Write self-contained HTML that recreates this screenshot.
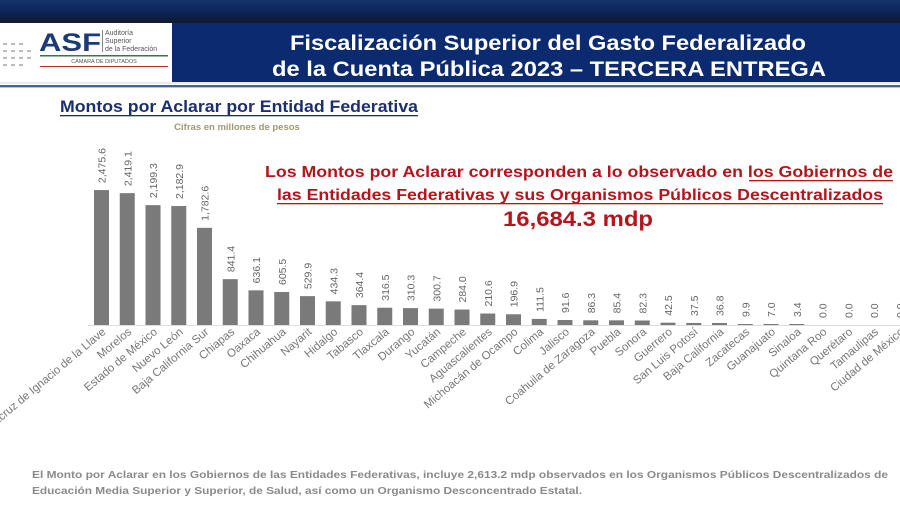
<!DOCTYPE html>
<html><head><meta charset="utf-8"><style>
html,body{margin:0;padding:0;background:#fff;}
svg{display:block;font-family:"Liberation Sans",sans-serif;}
</style></head><body>
<svg width="900" height="506" viewBox="0 0 900 506" xmlns="http://www.w3.org/2000/svg">
<defs><linearGradient id="tg" x1="0" y1="0" x2="0" y2="1"><stop offset="0" stop-color="#17336b"/><stop offset="0.6" stop-color="#0c2252"/><stop offset="1" stop-color="#141a2a"/></linearGradient></defs>
<rect x="0" y="0" width="900" height="23" fill="url(#tg)"/>
<rect x="0" y="23" width="172" height="59" fill="#fff"/>
<rect x="172" y="23" width="728" height="59" fill="#0b2a6f"/>
<rect x="0" y="82" width="900" height="2" fill="#e8ecf2"/>
<rect x="0" y="85" width="900" height="2" fill="#46648e"/>
<rect x="0" y="87" width="900" height="1" fill="#b8c4d4"/>
<g fill="#bbb">
<rect x="3" y="43" width="4" height="2"/><rect x="11" y="43" width="4" height="2"/><rect x="19" y="43" width="4" height="2"/>
<rect x="3" y="50" width="4" height="2"/><rect x="11" y="50" width="4" height="2"/><rect x="19" y="50" width="4" height="2"/><rect x="27" y="50" width="4" height="2"/>
<rect x="3" y="57" width="4" height="2"/><rect x="11" y="57" width="4" height="2"/><rect x="19" y="57" width="4" height="2"/><rect x="27" y="57" width="4" height="2"/>
<rect x="3" y="64" width="4" height="2"/><rect x="11" y="64" width="4" height="2"/><rect x="19" y="64" width="4" height="2"/>
</g>
<text x="39" y="51" font-size="25" font-weight="bold" fill="#1b3a78" textLength="62" lengthAdjust="spacingAndGlyphs">ASF</text>
<rect x="102" y="30" width="1" height="22" fill="#888"/>
<text x="105" y="35" font-size="7" fill="#555">Auditoría</text>
<text x="105" y="43" font-size="7" fill="#555">Superior</text>
<text x="105" y="51" font-size="7" fill="#555">de la Federación</text>
<rect x="40" y="55" width="128" height="1.5" fill="#2e7a4a"/>
<text x="104" y="63" font-size="5.5" fill="#555" text-anchor="middle">CÁMARA DE DIPUTADOS</text>
<rect x="40" y="66" width="128" height="1" fill="#b03030"/>
<g fill="#fff" font-weight="bold" font-size="21" text-anchor="middle">
<text x="548" y="50" textLength="516" lengthAdjust="spacingAndGlyphs">Fiscalización Superior del Gasto Federalizado</text>
<text x="549" y="76" textLength="554" lengthAdjust="spacingAndGlyphs">de la Cuenta Pública 2023 – TERCERA ENTREGA</text>
</g>
<text x="60" y="112" font-size="16.5" font-weight="bold" fill="#1c2f6e" textLength="358" lengthAdjust="spacingAndGlyphs">Montos por Aclarar por Entidad Federativa</text>
<rect x="60" y="115" width="358" height="1.3" fill="#1c2f6e"/>
<text x="237" y="130" font-size="9.5" font-weight="bold" fill="#a09870" text-anchor="middle">Cifras en millones de pesos</text>
<g fill="#b4141c" font-weight="bold" font-size="15.5" text-anchor="middle">
<text x="579" y="177" textLength="628" lengthAdjust="spacingAndGlyphs">Los Montos por Aclarar corresponden a lo observado en los Gobiernos de</text>
<text x="580" y="200" textLength="606" lengthAdjust="spacingAndGlyphs">las Entidades Federativas y sus Organismos Públicos Descentralizados</text>
<text x="578" y="226" font-size="21" textLength="150" lengthAdjust="spacingAndGlyphs">16,684.3 mdp</text>
</g>
<rect x="749" y="180" width="144" height="1.3" fill="#b4141c"/>
<rect x="277" y="203" width="606" height="1.3" fill="#b4141c"/>
<line x1="88" y1="325.5" x2="900" y2="325.5" stroke="#ddd" stroke-width="1"/>
<g fill="#8a8a8a" font-size="10.5" font-weight="bold">
<text x="32" y="478" textLength="856" lengthAdjust="spacingAndGlyphs">El Monto por Aclarar en los Gobiernos de las Entidades Federativas, incluye 2,613.2 mdp observados en los Organismos Públicos Descentralizados de</text>
<text x="32" y="494" textLength="550" lengthAdjust="spacingAndGlyphs">Educación Media Superior y Superior, de Salud, así como un Organismo Desconcentrado Estatal.</text>
</g>
<g fill="#777" font-size="10.5" id="bars"></g>
</svg>
<script>
var d=[["Veracruz de Ignacio de la Llave",2475.6],["Morelos",2419.1],["Estado de México",2199.3],["Nuevo León",2182.9],["Baja California Sur",1782.6],["Chiapas",841.4],["Oaxaca",636.1],["Chihuahua",605.5],["Nayarit",529.9],["Hidalgo",434.3],["Tabasco",364.4],["Tlaxcala",316.5],["Durango",310.3],["Yucatán",300.7],["Campeche",284.0],["Aguascalientes",210.6],["Michoacán de Ocampo",196.9],["Colima",111.5],["Jalisco",91.6],["Coahuila de Zaragoza",86.3],["Puebla",85.4],["Sonora",82.3],["Guerrero",42.5],["San Luis Potosí",37.5],["Baja California",36.8],["Zacatecas",9.9],["Guanajuato",7.0],["Sinaloa",3.4],["Quintana Roo",0.0],["Querétaro",0.0],["Tamaulipas",0.0],["Ciudad de México",0.0]];
var g=document.getElementById("bars"),s="",base=325,k=0.0545;
d.forEach(function(e,i){var cx=101.5+i*25.75,h=Math.max(e[1]*k,e[1]>0?1:0),top=base-h;
s+='<rect x="'+(cx-7.5)+'" y="'+top+'" width="15" height="'+h+'" fill="#7a7a7a"/>';
var v=e[1].toLocaleString("en-US",{minimumFractionDigits:1,maximumFractionDigits:1});
s+='<text transform="translate('+(cx+4)+','+(top-7)+') rotate(-90)" fill="#666">'+v+'</text>';
s+='<text transform="translate('+(cx+5)+',333) rotate(-40)" text-anchor="end" fill="#777" font-size="11.5">'+e[0]+'</text>';});
g.innerHTML=s;
</script>
</body></html>
